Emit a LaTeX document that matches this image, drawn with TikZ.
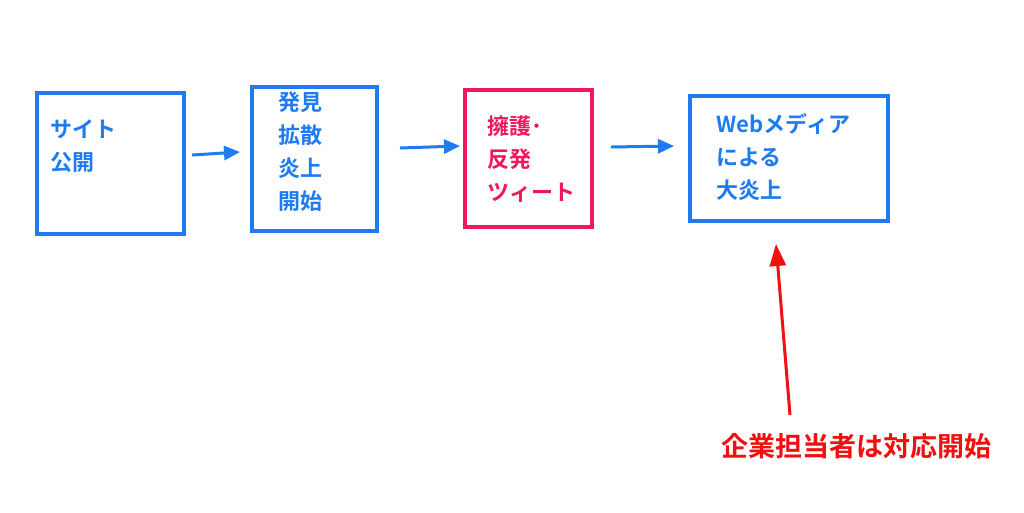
\documentclass[tikz,border=0pt]{standalone}
\usepackage{fontspec}
\newfontfamily\jp{Noto Sans CJK JP Bold}
\usetikzlibrary{arrows.meta}
\definecolor{bblue}{HTML}{1E7BF0}
\definecolor{bpink}{HTML}{F0185A}
\definecolor{bred}{HTML}{F01010}
\begin{document}
\begin{tikzpicture}[x=1pt,y=-1pt,
  box/.style={draw=bblue,line width=4.5pt,inner sep=0pt},
  txt/.style={font=\jp\fontsize{22}{33}\selectfont,text=bblue,align=left,anchor=north west},
  conn/.style={draw=bblue,line width=3pt,-{Triangle[length=16pt,width=14pt]}}]
\useasboundingbox[fill=white] (0,0) rectangle (1024,512);
\draw[box] (37,93) rectangle (184,234);
\draw[box] (252,87) rectangle (377,231);
\draw[box,draw=bpink] (465,90) rectangle (592,227);
\draw[box] (690,96) rectangle (888,221);
\node[txt] (t1) at (47,116) {サイト\\公開};
\node[txt] (t2) at (275,88) {発見\\拡散\\炎上\\開始};
\node[txt,text=bpink] (t3) at (484,112) {擁護･\\反発\\ツィート};
\node[txt] (t4) at (713,110) {Webメディア\\による\\大炎上};
\coordinate (a1) at (192,155); \coordinate (b1) at (240,152);
\coordinate (a2) at (400,148); \coordinate (b2) at (460,146);
\coordinate (a3) at (611,147); \coordinate (b3) at (674,146);
\draw[conn] (a1) -- (b1);
\draw[conn] (a2) -- (b2);
\draw[conn] (a3) -- (b3);
\node[font=\jp\fontsize{27}{30}\selectfont,text=bred] (lab) at (856,446) {企業担当者は対応開始};
\coordinate (rt) at (776,244);
\draw[draw=bred,line width=3pt,-{Triangle[length=22pt,width=16pt]}] (790,415) -- (rt);
\end{tikzpicture}
\end{document}
